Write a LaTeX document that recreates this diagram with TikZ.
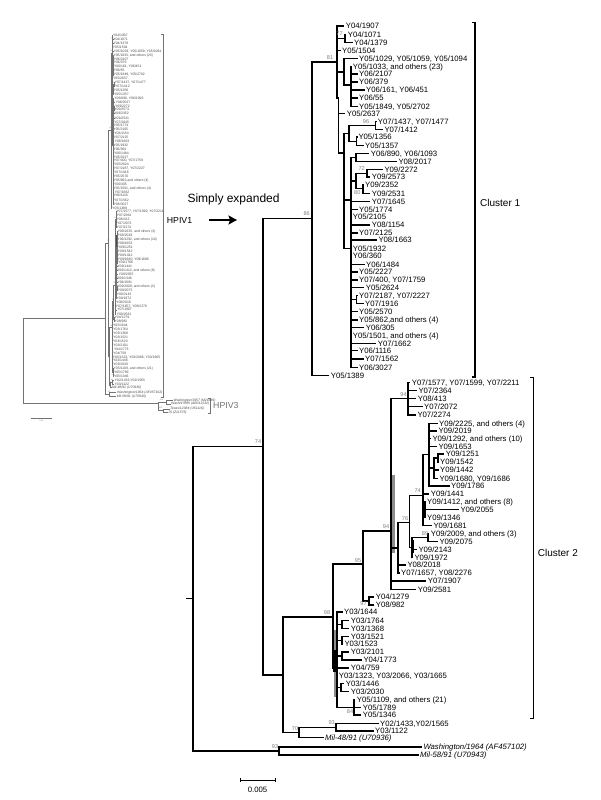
\documentclass[tikz,border=0pt]{standalone}
\usepackage{fontspec}
\setmainfont{Liberation Sans}
\usetikzlibrary{arrows.meta}
\newcommand\tlf[4]{\node[leaf] (#1) at ({#2-1.5},-#3) {#4};}
\newcommand\tcn[3]{\coordinate (#1) at (#2,-#3);}
\newcommand\tbr[2]{\foreach \kid in {#2}{\draw[edge] (#1) |- (\kid);}}
\newcommand\tbs[4]{\node[bsl] (#1) at (#2,-#3) {#4};}
\tikzset{
  leaf/.style={anchor=west, inner xsep=1.5pt, inner ysep=0pt, text height=5.6pt, text depth=0pt, font=\fontsize{7.75}{8}\selectfont},
  edge/.style={draw=black, line width=1.15pt},
  bsl/.style={font=\fontsize{5.6}{6}\selectfont, text=black!50, inner sep=0pt},
  thk/.style={draw=black, line width=2.3pt},
  thkg/.style={draw=black!45, line width=3.2pt},
  brk/.style={draw=black, line width=1.5pt},
  tleaf/.style={anchor=west, inner xsep=0.4pt, inner ysep=0pt, text height=2.5pt, text depth=0pt, font=\fontsize{3.4}{3.5}\selectfont\itshape, text=black!70},
  tedge/.style={draw=black!55, line width=0.35pt},
  tbrk/.style={draw=black!55, line width=0.5pt},
  tbsl/.style={font=\fontsize{2}{2}\selectfont, text=black!50, inner sep=0pt}
}
\newcommand\drawtree{%
% ---------- internal nodes
\tcn{root}{193}{598.7}\tcn{stub}{186}{598.7}
\tcn{n74}{263}{446.5}\tcn{c1}{312}{218.5}
\tcn{n81}{337}{62}\tcn{n77}{345}{38.3}\tcn{nf}{344}{72}\tcn{nf2}{351}{85}
\tcn{nx}{338.5}{98}\tcn{nk}{344}{153}\tcn{ng1}{349}{133.3}
\tcn{n96}{375.7}{125.3}\tcn{n1356}{356.7}{141.3}
\tcn{nl}{351}{200}\tcn{n890}{356}{157.5}\tcn{ny9}{356}{181}
\tcn{n72}{367}{173.2}\tcn{n80}{363}{188.8}\tcn{n2187}{356.3}{299.5}
\tcn{n94}{391}{531}\tcn{n94b}{408}{398.6}\tcn{na}{398}{548}
\tcn{n76}{409.3}{522.7}\tcn{nb}{412}{547.6}\tcn{n89}{428}{537.9}
\tcn{n74s}{423}{495.7}\tcn{nc}{429}{454.6}\tcn{ne}{434}{468}
\tcn{ne2}{438}{458}\tcn{nd}{425}{509.8}
\tcn{n95}{363}{564}\tcn{n97}{369}{601}\tcn{n98}{333}{617}
\tcn{ny3}{337}{668}\tcn{na3}{342}{624.3}\tcn{nb3}{342}{640.2}
\tcn{nc3}{342}{656}\tcn{nd3}{341}{687.5}\tcn{n84}{354}{707.2}
\tcn{n283}{283}{675}\tcn{n70}{299}{732.7}\tcn{n93b}{336}{727.2}
\tcn{n93}{279}{751}
% ---------- cluster 1 leaves
\tlf{a1}{345.7}{26}{Y04/1907}
\tlf{a2}{347.7}{34.3}{Y04/1071}
\tlf{a3}{354}{42.3}{Y04/1379}
\tlf{a4}{342}{50.7}{Y05/1504}
\tlf{a5}{359}{58.7}{Y05/1029, Y05/1059, Y05/1094}
\tlf{a6}{352.7}{66.3}{Y05/1033, and others (23)}
\tlf{a7}{359}{74}{Y06/2107}
\tlf{a8}{359}{82}{Y06/379}
\tlf{a9}{366}{90}{Y06/161, Y06/451}
\tlf{a10}{359}{98}{Y06/55}
\tlf{a11}{359}{106.3}{Y05/1849, Y05/2702}
\tlf{a12}{346.7}{113.7}{Y05/2637}
\tlf{a13}{377.7}{121.3}{Y07/1437, Y07/1477}
\tlf{a14}{384.3}{129.3}{Y07/1412}
\tlf{a15}{358.3}{137}{Y05/1356}
\tlf{a16}{365}{145.7}{Y05/1357}
\tlf{a17}{370.7}{153.3}{Y06/890, Y06/1093}
\tlf{a18}{398.3}{161.7}{Y08/2017}
\tlf{a19}{384.3}{169.3}{Y09/2272}
\tlf{a20}{371.7}{177}{Y09/2573}
\tlf{a21}{365}{184.3}{Y09/2352}
\tlf{a22}{371.7}{193.3}{Y09/2531}
\tlf{a23}{371.7}{201.3}{Y07/1645}
\tlf{a24}{359}{209.3}{Y05/1774}
\tlf{a25}{352.7}{216.7}{Y05/2105}
\tlf{a26}{371.7}{225}{Y08/1154}
\tlf{a27}{359}{233}{Y07/2125}
\tlf{a28}{378.3}{240}{Y08/1663}
\tlf{a29}{352.7}{248.3}{Y05/1932}
\tlf{a30}{352.7}{256}{Y06/360}
\tlf{a31}{366}{264.3}{Y06/1484}
\tlf{a32}{359}{272}{Y05/2227}
\tlf{a33}{359}{280}{Y07/400, Y07/1759}
\tlf{a34}{365.7}{287.7}{Y05/2624}
\tlf{a35}{359}{295.3}{Y07/2187, Y07/2227}
\tlf{a36}{365}{303.7}{Y07/1916}
\tlf{a37}{359}{311.7}{Y05/2570}
\tlf{a38}{359}{320}{Y05/862,and others (4)}
\tlf{a39}{365.7}{327.7}{Y06/305}
\tlf{a40}{352.7}{336}{Y05/1501, and others (4)}
\tlf{a41}{377.7}{343.3}{Y07/1662}
\tlf{a42}{359}{350.7}{Y06/1116}
\tlf{a43}{365}{359}{Y07/1562}
\tlf{a44}{359}{367.3}{Y06/3027}
\tlf{a45}{330.7}{375.3}{Y05/1389}
% ---------- cluster 2 leaves
\tlf{b1}{411.7}{382.7}{Y07/1577, Y07/1599, Y07/2211}
\tlf{b2}{418.3}{390.7}{Y07/2364}
\tlf{b3}{417.7}{398.3}{Y08/413}
\tlf{b4}{424}{406.3}{Y07/2072}
\tlf{b5}{417.3}{415}{Y07/2274}
\tlf{b6}{439}{423.3}{Y09/2225, and others (4)}
\tlf{b7}{438.3}{431}{Y09/2019}
\tlf{b8}{432.3}{438.7}{Y09/1292, and others (10)}
\tlf{b9}{438.3}{446.3}{Y09/1653}
\tlf{b10}{445.7}{454}{Y09/1251}
\tlf{b11}{440}{462}{Y09/1542}
\tlf{b12}{440}{470}{Y09/1442}
\tlf{b13}{439.3}{478.3}{Y09/1680, Y09/1686}
\tlf{b14}{451}{486}{Y09/1786}
\tlf{b15}{430.7}{494}{Y09/1441}
\tlf{b16}{427}{502}{Y09/1412, and others (8)}
\tlf{b17}{460.3}{509.7}{Y09/2055}
\tlf{b18}{427}{517.7}{Y09/1346}
\tlf{b19}{433.3}{525.7}{Y09/1681}
\tlf{b20}{430.7}{534}{Y09/2009, and others (3)}
\tlf{b21}{439.3}{541.7}{Y09/2075}
\tlf{b22}{418.3}{549.3}{Y09/2143}
\tlf{b23}{414.3}{557.3}{Y09/1972}
\tlf{b24}{407.3}{565}{Y08/2018}
\tlf{b25}{401}{573}{Y07/1657, Y08/2276}
\tlf{b26}{427.7}{581}{Y07/1907}
\tlf{b27}{417.7}{589.3}{Y09/2581}
\tlf{b28}{375.7}{597}{Y04/1279}
\tlf{b29}{375.7}{605}{Y08/982}
\tlf{b30}{344}{612}{Y03/1644}
\tlf{b31}{350.7}{620.3}{Y03/1764}
\tlf{b32}{350.7}{628.3}{Y03/1368}
\tlf{b33}{350.7}{636.3}{Y03/1521}
\tlf{b34}{344.3}{644}{Y03/1523}
\tlf{b35}{350.7}{652}{Y03/2101}
\tlf{b36}{363.3}{660}{Y04/1773}
\tlf{b37}{350.7}{668}{Y04/759}
\tlf{b38}{338.7}{676}{Y03/1323, Y03/2066, Y03/1665}
\tlf{b39}{345.7}{683.3}{Y03/1446}
\tlf{b40}{350.7}{691.7}{Y03/2030}
\tlf{b41}{356.7}{699.3}{Y05/1109, and others (21)}
\tlf{b42}{362.7}{707.3}{Y05/1789}
\tlf{b43}{362.7}{715}{Y05/1346}
\tlf{b44}{380}{723.3}{Y02/1433,Y02/1565}
\tlf{b45}{375}{731}{Y03/1122}
\tlf{b46}{325}{737.3}{\itshape Mil-48/91 (U70936)}
\tlf{b47}{423.3}{747}{\itshape Washington/1964 (AF457102)}
\tlf{b48}{420}{755}{\itshape Mil-58/91 (U70943)}
% ---------- heavy overlapping stems
\draw[thkg] (393,-475) -- (393,-553);
\draw[thkg] (336,-630) -- (336,-697);
\draw[thk] (337,-27) -- (337,-97);
\draw[thk] (363,-185) -- (363,-193);
\draw[thk] (413,-540) -- (413,-553);
\draw[thk] (429,-430) -- (429,-472);
\draw[thk] (334.5,-650) -- (334.5,-672);
% ---------- branches
\draw[edge] (root) -- (stub);
\tbr{root}{n74,n93}
\tbr{n74}{c1,n283}
\tbr{c1}{n81,a45}
\tbr{n81}{a1,n77,a4,nf,nx}
\tbr{n77}{a2,a3}
\tbr{nf}{a5,nf2}
\tbr{nf2}{a6,a7,a8,a9,a10,a11}
\tbr{nx}{a12,nk}
\tbr{nk}{ng1,nl,a29}
\tbr{ng1}{n96,n1356}
\tbr{n96}{a13,a14}
\tbr{n1356}{a15,a16}
\tbr{nl}{n890,ny9,a23,a24,a25,a26,a27,a28,a30,a31,a32,a33,a34,n2187,a37,a38,a39,a40,a41,a42,a43,a44}
\tbr{n890}{a17,a18}
\tbr{ny9}{n72,n80}
\tbr{n72}{a19,a20}
\tbr{n80}{a21,a22}
\tbr{n2187}{a35,a36}
\tbr{n283}{n98,n70}
\tbr{n98}{n95,ny3}
\tbr{n95}{n94,n97}
\tbr{n97}{b28,b29}
\tbr{n94}{n94b,na,b26,b27}
\tbr{n94b}{b1,b2,b3,b4,b5}
\tbr{na}{n76,b24,b25}
\tbr{n76}{n74s,nb}
\tbr{n74s}{nc,b15,nd,b19}
\tbr{nc}{b6,b7,b8,b9,ne,b14}
\tbr{ne}{ne2,b12,b13}
\tbr{ne2}{b10,b11}
\tbr{nd}{b16,b17,b18}
\tbr{nb}{n89,b22,b23}
\tbr{n89}{b20,b21}
\tbr{ny3}{b30,na3,nb3,nc3,b37,b38,nd3,n84}
\tbr{na3}{b31,b32}
\tbr{nb3}{b33,b34}
\tbr{nc3}{b35,b36}
\tbr{nd3}{b39,b40}
\tbr{n84}{b41,b42,b43}
\tbr{n70}{n93b,b46}
\tbr{n93b}{b44,b45}
\tbr{n93}{b47,b48}
% ---------- bootstrap values
\tbs{s86}{306.7}{214}{86}
\tbs{s81}{330}{58}{81}
\tbs{s77}{339.5}{33.5}{77}
\tbs{s96}{366}{121.7}{96}
\tbs{s72}{361.7}{168.5}{72}
\tbs{s80}{357.3}{192.5}{80}
\tbs{s94b}{403.5}{395}{94}
\tbs{s94}{386}{527}{94}
\tbs{s74s}{417.7}{491}{74}
\tbs{s76}{405}{518.5}{76}
\tbs{s89}{425}{533.5}{89}
\tbs{s95}{358}{561}{95}
\tbs{s97}{363.5}{603.5}{97}
\tbs{s98}{327}{613}{98}
\tbs{s84}{350}{711.7}{84}
\tbs{s93b}{331.7}{723}{93}
\tbs{s70}{295}{728.5}{70}
\tbs{s93}{275}{746.5}{93}
\tbs{s74}{258}{442}{74}
}
\begin{document}
\begin{tikzpicture}[x=1pt,y=1pt]
\useasboundingbox (0,0) rectangle (600,-800);
\fill[white] (0,0) rectangle (600,-800);
% ===== main expanded tree
\drawtree
% ===== thumbnail of the full tree
\begin{scope}[name prefix=t-, shift={(95.35,-22.13)}, xscale=0.05, yscale=0.495,
  leaf/.style={tleaf, font=\fontsize{3.4}{3.5}\selectfont},
  edge/.style={tedge}, bsl/.style={tbsl},
  thk/.style={draw=black!70, line width=0.8pt},
  thkg/.style={draw=black!35, line width=1pt}]
\drawtree
\end{scope}
% HPIV3 part of the thumbnail
\coordinate (tr) at (22.7,-361);
\coordinate (h3) at (158.3,-403.3);
\coordinate (h3a) at (165.7,-401.8);
\coordinate (h3b) at (163.5,-410.5);
\node[tleaf] (h3l1) at (173,-400) {Washington/1957 (M21649)};
\node[tleaf] (h3l2) at (170.5,-403.7) {Wash/47885 (AB012132)};
\node[tleaf] (h3l3) at (169.5,-408.7) {Texas/12084 (U51116)};
\node[tleaf] (h3l4) at (167.5,-412.3) {JS (Z11575)};
\draw[tedge] (tr) |- (t-stub);
\draw[tedge] (tr) |- (h3);
\draw[tedge] (h3) |- (h3a);
\draw[tedge] (h3) |- (h3b);
\draw[tedge] (h3a) |- (h3l1);
\draw[tedge] (h3a) |- (h3l2);
\draw[tedge] (h3b) |- (h3l3);
\draw[tedge] (h3b) |- (h3l4);
\node[tbsl] (h3s1) at (161.5,-400) {100};
\node[tbsl] (h3s2) at (160.5,-408.3) {100};
% thumbnail brackets and labels
\coordinate (hb1) at (163.3,-34);
\coordinate (hb2) at (163.3,-397);
\draw[tbrk] (hb1) ++(-2,0) -- (hb1) -- (hb2) -- ++(-2,0);
\coordinate (hc1) at (210,-398.3);
\coordinate (hc2) at (210,-413.3);
\draw[tbrk] (hc1) ++(-2.5,0) -- (hc1) -- (hc2) -- ++(-2.5,0);
\node[anchor=west, inner sep=0, font=\fontsize{8.75}{9}\selectfont] (hp1) at (166.7,-220) {HPIV1};
\node[anchor=west, inner sep=0, text=black!55, font=\fontsize{8.75}{9}\selectfont] (hp3) at (213,-405.5) {HPIV3};
% thumbnail scale bar
\coordinate (tsA) at (31,-418.3);
\coordinate (tsB) at (51.7,-418.3);
\draw[tbrk] (tsA) -- (tsB);
\draw[tbrk] (tsA) ++(0,0.8) -- ++(0,-1.6);
\draw[tbrk] (tsB) ++(0,0.8) -- ++(0,-1.6);
\node[tbsl] (tsl) at (41.3,-420.8) {0.05};
% ===== annotations
\node[anchor=west, inner sep=0, font=\fontsize{12}{14}\selectfont] (simp) at (187.3,-199) {Simply expanded};
\coordinate (arA) at (209,-220);
\coordinate (arB) at (237,-220);
\draw[line width=2.2pt, -{Stealth[length=8.5pt,width=9pt,inset=1.5pt]}] (arA) -- (arB);
% cluster brackets
\coordinate (k1a) at (475,-22.7);
\coordinate (k1b) at (475,-377);
\draw[brk] (k1a) ++(-3.5,0) -- (k1a) -- (k1b) -- ++(-3.5,0);
\coordinate (k2a) at (533.3,-377.3);
\coordinate (k2b) at (533.3,-718.3);
\draw[brk] (k2a) ++(-3.5,0) -- (k2a) -- (k2b) -- ++(-3.5,0);
\node[anchor=west, inner sep=0, font=\fontsize{10}{12}\selectfont] (cl1) at (480,-203) {Cluster 1};
\node[anchor=west, inner sep=0, font=\fontsize{10}{12}\selectfont] (cl2) at (537.7,-552.7) {Cluster 2};
% main scale bar
\coordinate (sbA) at (240,-780);
\coordinate (sbB) at (275,-780);
\draw[line width=0.9pt] (sbA) -- (sbB);
\draw[line width=0.9pt] (sbA) ++(0,2) -- ++(0,-4);
\draw[line width=0.9pt] (sbB) ++(0,2) -- ++(0,-4);
\node[inner sep=0, font=\fontsize{7.75}{8}\selectfont] (sbl) at (257.5,-790) {0.005};
\end{tikzpicture}
\end{document}
